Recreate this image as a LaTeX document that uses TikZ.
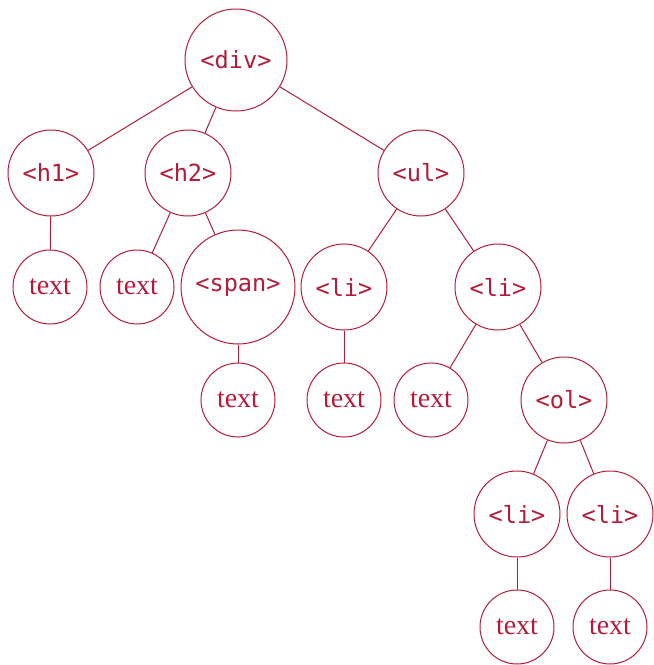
\documentclass[tikz,border=0pt]{standalone}
\usepackage{fontspec}
\setmainfont{Liberation Serif}
\setmonofont{DejaVu Sans Mono}
\usetikzlibrary{positioning}
\definecolor{domred}{RGB}{178,28,58}
\tikzset{
  domnode/.style={circle, draw=domred, text=domred, line width=0.5pt, inner sep=0pt},
  tagnode/.style={domnode, minimum size=43pt, font=\ttfamily\fontsize{11.8}{14}\selectfont},
  textnode/.style={domnode, minimum size=37pt, font=\fontsize{14}{16}\selectfont},
  domedge/.style={draw=domred, line width=0.5pt}
}
\begin{document}
\begin{tikzpicture}[x=0.5pt, y=-0.5pt]
        \useasboundingbox (0,0) rectangle (654,665);
        % element nodes
        \node[tagnode, minimum size=51pt] (nDiv) at (236,60) {<div>};
        \node[tagnode] (nHOne) at (51,173) {<h1>};
        \node[tagnode] (nHTwo) at (188,173) {<h2>};
        \node[tagnode] (nUl) at (421,173) {<ul>};
        \node[tagnode, minimum size=57pt] (nSpan) at (238,287) {<span>};
        \node[tagnode] (nLiA) at (344,287) {<li>};
        \node[tagnode] (nLiB) at (498,287) {<li>};
        \node[tagnode] (nOl) at (564,400) {<ol>};
        \node[tagnode] (nLiC) at (517,514) {<li>};
        \node[tagnode] (nLiD) at (610,514) {<li>};
        % text nodes
        \foreach \n/\x/\y in
        {tA/50/287,
            tB/137/287,
            tC/238/400,
            tD/344/400,
            tE/431/400,
            tF/517/627,
            tG/610/627
        }
        {
            \node[textnode] (\n) at (\x,\y) {text};
        };
        % edges
        \foreach \a/\b in
        {nDiv/nHOne, nDiv/nHTwo, nDiv/nUl,
            nHOne/tA, nHTwo/tB, nHTwo/nSpan, nSpan/tC,
            nUl/nLiA, nUl/nLiB, nLiA/tD, nLiB/tE, nLiB/nOl,
            nOl/nLiC, nOl/nLiD, nLiC/tF, nLiD/tG}
        {
            \draw[domedge] (\a) -- (\b);
        };
\end{tikzpicture}
\end{document}
